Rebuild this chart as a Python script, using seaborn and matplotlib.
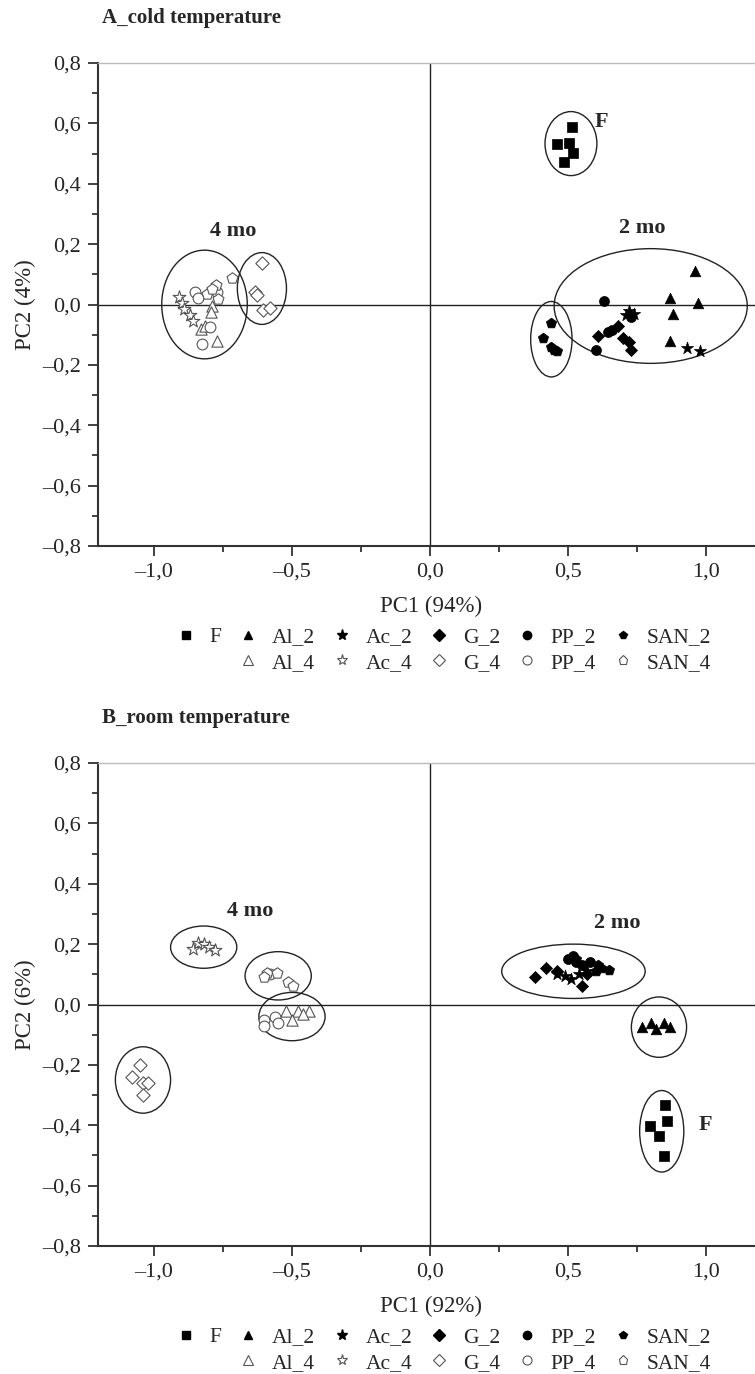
import numpy as np
import pandas as pd
import seaborn as sns
import matplotlib.pyplot as plt
from matplotlib.patches import Ellipse
from matplotlib.lines import Line2D
from matplotlib.ticker import MultipleLocator, FuncFormatter

# ---- data: A (cold temperature) ----
cold_group = (["F"] * 5 + ["Al_2"] * 5 + ["Ac_2"] * 5 + ["G_2"] * 5 + ["PP_2"] * 5 + ["SAN_2"] * 5
              + ["Al_4"] * 5 + ["Ac_4"] * 5 + ["G_4"] * 5 + ["PP_4"] * 5 + ["SAN_4"] * 5)
cold_pc1 = [0.514, 0.459, 0.504, 0.518, 0.486,
            0.96, 0.87, 0.97, 0.88, 0.87,
            0.93, 0.98, 0.72, 0.74, 0.71,
            0.61, 0.68, 0.70, 0.73, 0.72,
            0.63, 0.60, 0.66, 0.645, 0.73,
            0.41, 0.44, 0.44, 0.46, 0.45,
            -0.79, -0.795, -0.83, -0.815, -0.77,
            -0.91, -0.90, -0.89, -0.87, -0.86,
            -0.609, -0.634, -0.627, -0.605, -0.578,
            -0.851, -0.84, -0.797, -0.826, -0.772,
            -0.717, -0.775, -0.808, -0.768, -0.79]
cold_pc2 = [0.589, 0.533, 0.536, 0.503, 0.473,
            0.11, 0.02, 0.005, -0.03, -0.12,
            -0.145, -0.155, -0.02, -0.03, -0.035,
            -0.105, -0.07, -0.11, -0.15, -0.125,
            0.01, -0.15, -0.085, -0.09, -0.04,
            -0.11, -0.06, -0.14, -0.155, -0.15,
            -0.005, -0.025, -0.08, -0.07, -0.12,
            0.025, 0.005, -0.015, -0.035, -0.055,
            0.139, 0.04, 0.03, -0.017, -0.013,
            0.043, 0.023, -0.076, -0.132, 0.04,
            0.089, 0.063, 0.035, 0.017, 0.05]
cold_ell_x = [-0.817, -0.609, 0.511, 0.44, 0.80]
cold_ell_y = [0.0, 0.053, 0.533, -0.115, -0.005]
cold_ell_w = [0.31, 0.178, 0.188, 0.15, 0.70]
cold_ell_h = [0.36, 0.238, 0.212, 0.25, 0.38]
cold_notes = ["4 mo", "F", "2 mo"]
cold_note_x = [-0.714, 0.623, 0.768]
cold_note_y = [0.242, 0.603, 0.255]

# ---- data: B (room temperature) ----
room_group = cold_group
room_pc1 = [0.851, 0.859, 0.797, 0.83, 0.848,
            0.77, 0.80, 0.82, 0.85, 0.87,
            0.46, 0.49, 0.51, 0.54, 0.57,
            0.38, 0.42, 0.46, 0.55, 0.57,
            0.50, 0.52, 0.55, 0.58, 0.53,
            0.53, 0.62, 0.65, 0.61, 0.60,
            -0.52, -0.48, -0.44, -0.50, -0.46,
            -0.86, -0.84, -0.82, -0.80, -0.78,
            -1.08, -1.05, -1.04, -1.02, -1.04,
            -0.60, -0.60, -0.56, -0.58, -0.55,
            -0.59, -0.555, -0.515, -0.495, -0.60]
room_pc2 = [-0.334, -0.386, -0.404, -0.434, -0.502,
            -0.075, -0.06, -0.08, -0.06, -0.075,
            0.10, 0.095, 0.085, 0.10, 0.11,
            0.09, 0.12, 0.11, 0.06, 0.10,
            0.15, 0.16, 0.13, 0.14, 0.14,
            0.15, 0.12, 0.115, 0.13, 0.11,
            -0.02, -0.02, -0.02, -0.05, -0.03,
            0.185, 0.205, 0.20, 0.19, 0.18,
            -0.24, -0.20, -0.26, -0.26, -0.30,
            -0.05, -0.07, -0.04, 0.10, -0.06,
            0.105, 0.105, 0.075, 0.06, 0.09]
room_ell_x = [-0.82, -0.55, -0.50, -1.04, 0.52, 0.83, 0.84]
room_ell_y = [0.19, 0.095, -0.04, -0.25, 0.11, -0.075, -0.42]
room_ell_w = [0.24, 0.24, 0.24, 0.20, 0.52, 0.20, 0.16]
room_ell_h = [0.14, 0.16, 0.16, 0.22, 0.18, 0.20, 0.27]
room_notes = ["4 mo", "2 mo", "F"]
room_note_x = [-0.65, 0.68, 1.0]
room_note_y = [0.31, 0.27, -0.40]

legend_order = ["F", "", "Al_2", "Al_4", "Ac_2", "Ac_4", "G_2", "G_4", "PP_2", "PP_4", "SAN_2", "SAN_4"]
markers = {"F": "s", "Al_2": "^", "Al_4": "^", "Ac_2": "*", "Ac_4": "*",
           "G_2": "D", "G_4": "D", "PP_2": "o", "PP_4": "o", "SAN_2": "p", "SAN_4": "p"}
sizes = {"s": 48, "^": 58, "*": 85, "D": 38, "o": 52, "p": 60}

sns.set_style("ticks")
plt.rcParams['font.family'] = ['Liberation Serif', 'DejaVu Serif']
plt.rcParams['font.size'] = 16

W, H = 755, 1374
fig = plt.figure(figsize=(W / 100, H / 100), dpi=100)


def fmt(v, pos):
    if abs(v) < 1e-9:
        v = 0.0
    return f"{v:.1f}".replace(".", ",").replace("-", "\u2013")


def panel(top_px, group, pc1, pc2, ex, ey, ew, eh, notes, nx, ny, title, xlab, ylab):
    bottom_px = top_px + 483
    ax = fig.add_axes([98 / W, 1 - bottom_px / H, (W - 98) / W, 483 / H])
    df = pd.DataFrame({"group": group, "pc1": pc1, "pc2": pc2})
    for g, sub in df.groupby("group", sort=False):
        m = markers[g]
        if g.endswith("_4"):
            sns.scatterplot(data=sub, x="pc1", y="pc2", marker=m, s=sizes[m] + 8, color="white",
                            edgecolor="#555555", linewidth=0.8, legend=False, ax=ax, zorder=3)
        else:
            sns.scatterplot(data=sub, x="pc1", y="pc2", marker=m, s=sizes[m], color="black",
                            edgecolor="black", linewidth=0.5, legend=False, ax=ax, zorder=3)
    for x, y, w, h in zip(ex, ey, ew, eh):
        ax.add_patch(Ellipse((x, y), w, h, fill=False, edgecolor="#222222", lw=1.0, zorder=2))
    for t, x, y in zip(notes, nx, ny):
        ax.text(x, y, t, fontsize=16, fontweight="bold", ha="center", va="center")
    ax.axhline(0, color="#222222", lw=1.0, zorder=1)
    ax.axvline(0, color="#222222", lw=1.0, zorder=1)
    ax.set_xlim(-1.203, 1.178)
    ax.set_ylim(-0.8, 0.8)
    ax.xaxis.set_major_locator(MultipleLocator(0.5))
    ax.xaxis.set_minor_locator(MultipleLocator(0.25))
    ax.yaxis.set_major_locator(MultipleLocator(0.2))
    ax.yaxis.set_minor_locator(MultipleLocator(0.1))
    ax.xaxis.set_major_formatter(FuncFormatter(fmt))
    ax.yaxis.set_major_formatter(FuncFormatter(fmt))
    ax.tick_params(which="major", length=7, width=1.3, direction="out", pad=5, color="#333333")
    ax.tick_params(which="minor", length=4, width=1.3, direction="out", color="#333333")
    ax.spines["right"].set_visible(False)
    ax.spines["top"].set_color("#bbbbbb")
    ax.spines["top"].set_linewidth(1.0)
    for s in ["left", "bottom"]:
        ax.spines[s].set_color("#333333")
        ax.spines[s].set_linewidth(1.5)
    ax.set_xlabel(xlab, fontsize=16.5)
    ax.set_ylabel(ylab, fontsize=16.5)
    ax.xaxis.set_label_coords((431 - 98) / (W - 98), -50 / 483)
    ax.yaxis.set_label_coords(-62 / (W - 98), 0.5)
    fig.text(102 / W, 1 - (top_px - 45) / H, title, fontsize=15, fontweight="bold",
             ha="left", va="center")
    handles = []
    for g in legend_order:
        if g == "":
            handles.append(Line2D([], [], linestyle="none"))
        elif g.endswith("_4"):
            handles.append(Line2D([], [], linestyle="none", marker=markers[g], markersize=6.5 if g != "Ac_4" else 8,
                                  markerfacecolor="white", markeredgecolor="#555555", markeredgewidth=0.8))
        else:
            handles.append(Line2D([], [], linestyle="none", marker=markers[g], markersize=6 if g != "Ac_2" else 8,
                                  markerfacecolor="black", markeredgecolor="black"))
    fig.legend(handles, legend_order, ncol=6, loc="center", frameon=False, fontsize=15.5,
               bbox_to_anchor=(443 / W, 1 - (bottom_px + 104) / H),
               handlelength=1.0, handletextpad=0.6, columnspacing=0.75, labelspacing=0.25)
    return ax


panel(63, cold_group, cold_pc1, cold_pc2, cold_ell_x, cold_ell_y, cold_ell_w, cold_ell_h,
      cold_notes, cold_note_x, cold_note_y, "A_cold temperature", "PC1 (94%)", "PC2 (4%)")
panel(763, room_group, room_pc1, room_pc2, room_ell_x, room_ell_y, room_ell_w, room_ell_h,
      room_notes, room_note_x, room_note_y, "B_room temperature", "PC1 (92%)", "PC2 (6%)")

fig.savefig("out.png", dpi=100)
